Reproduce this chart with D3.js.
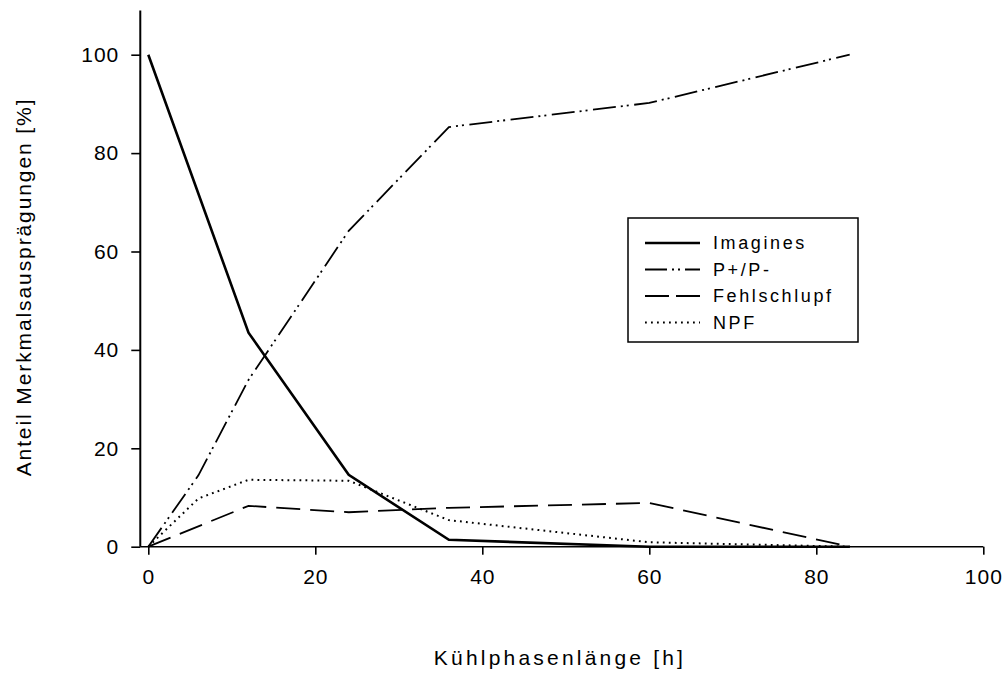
<!DOCTYPE html>
<html>
<head>
<meta charset="utf-8">
<script src="https://cdn.jsdelivr.net/npm/d3@7"></script>
<style>
  html, body { margin: 0; padding: 0; background: #fff; }
  svg text { font-family: "Liberation Sans", Arial, sans-serif; fill: #000; }
</style>
</head>
<body>
<svg id="chart" width="1007" height="682"></svg>
<script>
// ---- data ----
const xTicks = [0, 20, 40, 60, 80, 100];
const yTicks = [0, 20, 40, 60, 80, 100];

const imaginesHours = [0, 12, 24, 36, 60, 84];
const imagines      = [100, 43.5, 14.6, 1.4, 0, 0];

const ppHours = [0, 6, 12, 24, 36, 60, 84];
const pp      = [0, 14.5, 33.9, 64.2, 85.3, 90.2, 100];

const fehlHours = [0, 12, 24, 36, 60, 84];
const fehl      = [0, 8.3, 7.0, 7.9, 8.9, 0];

const npfHours = [0, 6, 12, 24, 36, 60, 84];
const npf      = [0, 9.8, 13.6, 13.4, 5.4, 0.9, 0];

const seriesNames = ["Imagines", "P+/P-", "Fehlschlupf", "NPF"];

// ---- layout ----
const svg = d3.select("#chart");
const x = d3.scaleLinear().domain([0, 100]).range([148.3, 983.3]);
const y = d3.scaleLinear().domain([0, 100]).range([546.7, 54.7]);

const styles = [
  { width: 2.6, dash: null },
  { width: 1.8, dash: "23,5,2,4,2,5.5" },
  { width: 1.8, dash: "24,10" },
  { width: 2,   dash: "1.8,4.2" }
];

const series = [
  { hours: imaginesHours, vals: imagines },
  { hours: ppHours, vals: pp },
  { hours: fehlHours, vals: fehl },
  { hours: npfHours, vals: npf }
];

// axes lines
svg.append("line")
  .attr("x1", x(-0.96)).attr("x2", x(100))
  .attr("y1", y(0)).attr("y2", y(0))
  .attr("stroke", "#000").attr("stroke-width", 1.6);
svg.append("line")
  .attr("x1", x(-0.96)).attr("x2", x(-0.96))
  .attr("y1", y(0)).attr("y2", y(109))
  .attr("stroke", "#000").attr("stroke-width", 2);

// x axis ticks
const xAxis = d3.axisBottom(x).tickValues(xTicks).tickSize(8).tickPadding(14).tickFormat(d3.format("d"));
const gx = svg.append("g").attr("transform", `translate(0,${y(0)})`).call(xAxis);
gx.select(".domain").remove();
gx.selectAll(".tick line").attr("stroke-width", 1.6);
gx.selectAll(".tick text")
  .style("font-size", "21px").style("letter-spacing", "1px")
  .attr("font-family", null);

// y axis ticks
const yAxis = d3.axisLeft(y).tickValues(yTicks).tickSize(9).tickPadding(12).tickFormat(d3.format("d"));
const gy = svg.append("g").attr("transform", `translate(${x(-0.96)},0)`).call(yAxis);
gy.select(".domain").remove();
gy.selectAll(".tick line").attr("stroke-width", 1.6);
gy.selectAll(".tick text")
  .style("font-size", "21px").style("letter-spacing", "1px")
  .attr("font-family", null);

// lines
const line = d3.line().x(d => x(d[0])).y(d => y(d[1]));
series.forEach((s, i) => {
  const pts = s.hours.map((h, j) => [h, s.vals[j]]);
  svg.append("path")
    .attr("d", line(pts))
    .attr("fill", "none")
    .attr("stroke", "#000")
    .attr("stroke-width", styles[i].width)
    .attr("stroke-dasharray", styles[i].dash)
    .attr("stroke-linejoin", "miter");
});

// axis titles
svg.append("text")
  .attr("x", 560).attr("y", 665)
  .attr("text-anchor", "middle")
  .style("font-size", "21px").style("letter-spacing", "3.2px")
  .text("Kühlphasenlänge [h]");

svg.append("text")
  .attr("transform", `translate(31,${287}) rotate(-90)`)
  .attr("text-anchor", "middle")
  .style("font-size", "21px").style("letter-spacing", "1.9px")
  .text("Anteil Merkmalsausprägungen [%]");

// legend
const lg = svg.append("g");
lg.append("rect")
  .attr("x", 628).attr("y", 218).attr("width", 230).attr("height", 124)
  .attr("fill", "none").attr("stroke", "#000").attr("stroke-width", 1.5);
const rowY = [243, 269.5, 296, 322.5];
seriesNames.forEach((name, i) => {
  lg.append("line")
    .attr("x1", 645).attr("x2", 700)
    .attr("y1", rowY[i]).attr("y2", rowY[i])
    .attr("stroke", "#000")
    .attr("stroke-width", styles[i].width)
    .attr("stroke-dasharray", i === 1 ? "22,5,2,4,2,5" : i === 2 ? "24,7" : styles[i].dash);
  lg.append("text")
    .attr("x", 713).attr("y", rowY[i]).attr("dy", "0.36em")
    .style("font-size", "18px").style("letter-spacing", "2.6px")
    .text(name);
});
</script>
</body>
</html>
